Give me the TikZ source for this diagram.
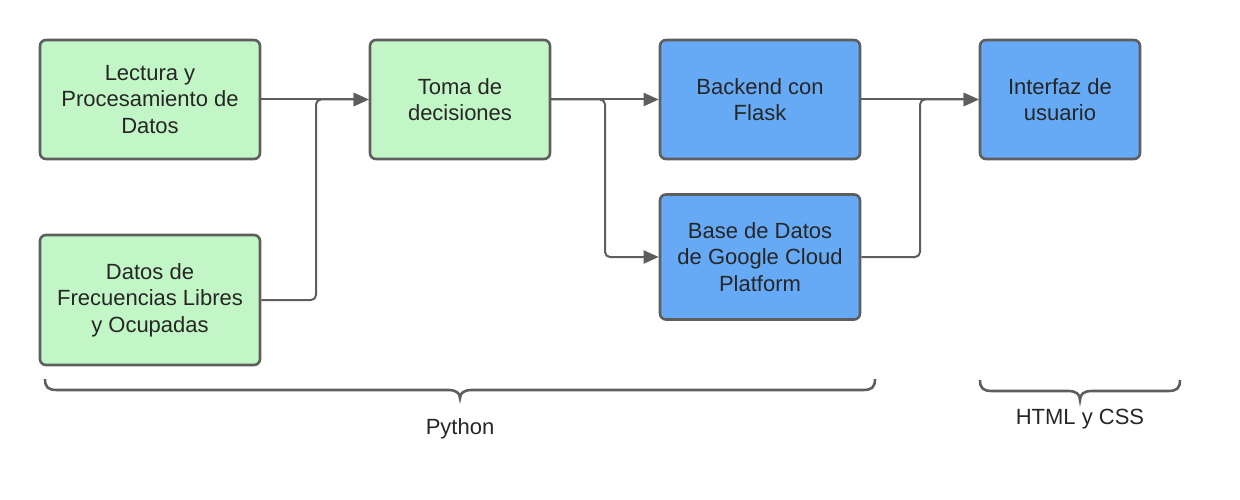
\documentclass[tikz,border=0pt]{standalone}
\usepackage{fontspec}
\setmainfont{Liberation Sans}
\usetikzlibrary{arrows.meta}
\definecolor{gfill}{HTML}{C3F6C6}
\definecolor{bfill}{HTML}{66AAF5}
\definecolor{edge}{HTML}{5E5E5E}
\definecolor{txt}{HTML}{262626}
\tikzset{
  box/.style={draw=edge, line width=2.6pt, rounded corners=6pt, align=center,
    text=txt, font=\fontsize{22}{26.5}\selectfont, inner sep=0pt},
  gbox/.style={box, fill=gfill},
  bbox/.style={box, fill=bfill},
  conn/.style={draw=edge, line width=2pt, rounded corners=5pt,
    -{Triangle[length=15pt,width=13pt]}},
  brace/.style={draw=edge, line width=2.6pt},
  lbl/.style={text=txt, font=\fontsize{22}{26}\selectfont}
}
\begin{document}
\begin{tikzpicture}[x=1pt,y=-1pt]
\useasboundingbox (0,0) rectangle (1240,500);
\node[gbox, minimum width=220pt, minimum height=119pt] (A) at (150,99.5) {Lectura y\\Procesamiento de\\Datos};
\node[gbox, minimum width=220pt, minimum height=130pt] (B) at (150,300) {Datos de\\Frecuencias Libres\\y Ocupadas};
\node[gbox, minimum width=180pt, minimum height=119pt] (C) at (460,99.5) {Toma de\\decisiones};
\node[bbox, minimum width=200pt, minimum height=119pt] (D) at (760,99.5) {Backend con\\Flask};
\node[bbox, minimum width=200pt, minimum height=125pt] (E) at (760,257) {Base de Datos\\de Google Cloud\\Platform};
\node[bbox, minimum width=160pt, minimum height=119pt] (F) at (1060,99.5) {Interfaz de\\usuario};
\coordinate (m1) at (316,200);
\coordinate (m2) at (605,180);
\coordinate (m3) at (920,180);
\draw[conn] (A.east) -- (C.west);
\draw[conn] (B.east) -| (m1) |- (C.west);
\draw[conn] (C.east) -- (D.west);
\draw[conn] (C.east) -| (m2) |- (E.west);
\draw[conn] (D.east) -- (F.west);
\draw[conn] (E.east) -| (m3) |- (F.west);
% braces
\draw[brace] (45,379) .. controls (45,387) and (48,390) .. (57,390) -- (448,390)
  .. controls (456,390) and (460,393) .. (460,398)
  .. controls (460,393) and (464,390) .. (472,390) -- (863,390)
  .. controls (872,390) and (875,387) .. (875,379);
\draw[brace] (980,380) .. controls (980,388) and (983,391) .. (992,391) -- (1068,391)
  .. controls (1076,391) and (1080,394) .. (1080,400)
  .. controls (1080,394) and (1084,391) .. (1092,391) -- (1168,391)
  .. controls (1177,391) and (1180,388) .. (1180,380);
\node[lbl] (py) at (460,429) {Python};
\node[lbl] (hc) at (1080,419) {HTML y CSS};
\end{tikzpicture}
\end{document}
